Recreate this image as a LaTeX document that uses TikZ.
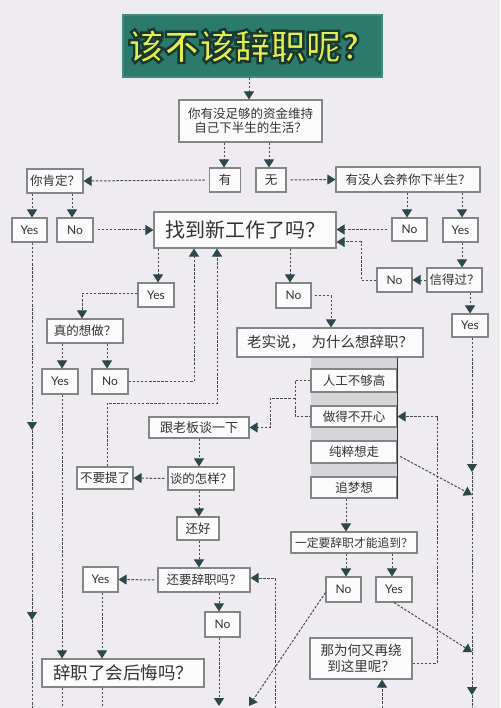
\documentclass[tikz,border=0pt]{standalone}
\usepackage{fontspec}
\setmainfont{Lato}
\newfontfamily\cjk{Noto Sans CJK SC}
\usetikzlibrary{arrows.meta,calc}
\definecolor{bg}{HTML}{EEEBF1}
\definecolor{boxline}{HTML}{858585}
\definecolor{boxfill}{HTML}{FBFBFB}
\definecolor{txt}{HTML}{333333}
\definecolor{conn}{HTML}{4A4A4A}
\definecolor{head}{HTML}{2E4848}
\definecolor{titlefill}{HTML}{2B7A6B}
\definecolor{titleedge}{HTML}{3E8C7E}
\definecolor{titletext}{HTML}{E4EE52}
\definecolor{colgrey}{HTML}{D6D6DA}
\tikzset{
  box/.style={draw=boxline, fill=boxfill, line width=1.1pt, inner sep=0pt, text=txt, align=center},
  cn/.style={box, font=\cjk\fontsize{12.5}{14}\selectfont},
  yn/.style={box, font=\fontsize{12}{14}\selectfont},
  dl/.style={draw=conn, line width=1pt, dash pattern=on 2.5pt off 1.6pt},
  arr/.style={dl, -{Triangle[width=10pt,length=8pt,color=head]}},
  ttl/.style={font=\cjk\bfseries\fontsize{35.5}{38}\selectfont, inner sep=0pt}
}
\begin{document}
\begin{tikzpicture}[x=1pt,y=-1pt]
\useasboundingbox (0,0) rectangle (500,708);
\fill[bg] (0,0) rectangle (500,708);

% title
\node[draw=titleedge, line width=1.2pt, fill=titlefill, minimum width=259pt, minimum height=62pt] (title) at (252.5,46) {};
\node[ttl, text=titletext] (ttext) at (title.center) {\special{pdf:code q 2 Tr 2.4 w 0.1 0.22 0.18 RG}该不该辞职呢？\special{pdf:code 0 Tr Q}};

% grey column of reasons
\fill[colgrey] (311,357) rectangle (397,498);

% nodes
\node[cn, minimum width=143pt, minimum height=42pt] (q1) at (250.5,121) {你有没足够的资金维持\\自己下半生的生活？};
\node[cn, minimum width=31pt, minimum height=24pt] (you) at (225,180) {有};
\node[cn, minimum width=30pt, minimum height=24pt] (wu) at (271,180) {无};
\node[cn, minimum width=56pt, minimum height=24pt] (sure) at (55,181) {你肯定？};
\node[cn, minimum width=144pt, minimum height=25pt] (raise) at (408,179.5) {有没人会养你下半生？};
\node[yn, minimum width=35pt, minimum height=24pt] (yesA) at (29.5,230) {Yes};
\node[yn, minimum width=36pt, minimum height=24pt] (noA) at (75,230) {No};
\node[box, font=\cjk\fontsize{20}{22}\selectfont, minimum width=182pt, minimum height=36pt] (find) at (245,230) {找到新工作了吗？};
\node[yn, minimum width=35pt, minimum height=23pt] (noB) at (409.5,229.5) {No};
\node[yn, minimum width=35pt, minimum height=24pt] (yesB) at (460.5,230) {Yes};
\node[cn, minimum width=55pt, minimum height=24pt] (trust) at (454.5,280) {信得过？};
\node[yn, minimum width=35pt, minimum height=24pt] (noC) at (394.5,280) {No};
\node[yn, minimum width=36pt, minimum height=23pt] (yesC) at (470,325.5) {Yes};
\node[yn, minimum width=36pt, minimum height=24pt] (yesD) at (156,295) {Yes};
\node[yn, minimum width=35pt, minimum height=25pt] (noD) at (293.5,295.5) {No};
\node[box, font=\cjk\fontsize{14.5}{16}\selectfont, minimum width=186pt, minimum height=29pt] (honest) at (330,342.5) {老实说，\ \ 为什么想辞职？};
\node[cn, minimum width=76pt, minimum height=24pt] (real) at (85,331) {真的想做？};
\node[yn, minimum width=36pt, minimum height=25pt] (yesE) at (60,381.5) {Yes};
\node[yn, minimum width=36pt, minimum height=25pt] (noE) at (110,381.5) {No};
\node[cn, minimum width=86pt, minimum height=23pt] (r1) at (354,380.5) {人工不够高};
\node[cn, minimum width=86pt, minimum height=21pt] (r2) at (354,416.5) {做得不开心};
\node[cn, minimum width=86pt, minimum height=22pt] (r3) at (354,452) {纯粹想走};
\node[cn, minimum width=86pt, minimum height=21pt] (r4) at (354,487.5) {追梦想};
\node[cn, font=\cjk\fontsize{13}{15}\selectfont, minimum width=100pt, minimum height=21pt] (boss) at (199,427.5) {跟老板谈一下};
\node[cn, minimum width=66pt, minimum height=23pt] (how) at (201,478.5) {谈的怎样？};
\node[cn, minimum width=56pt, minimum height=22pt] (stop) at (105,478) {不要提了};
\node[cn, minimum width=42pt, minimum height=23pt] (ok) at (198,528.5) {还好};
\node[cn, minimum width=92pt, minimum height=24pt] (still) at (204,580) {还要辞职吗？};
\node[yn, minimum width=35pt, minimum height=25pt] (yesF) at (100.5,579.5) {Yes};
\node[yn, minimum width=35pt, minimum height=25pt] (noF) at (222.5,624.5) {No};
\node[box, font=\cjk\fontsize{17.5}{20}\selectfont, minimum width=162pt, minimum height=28pt] (regret) at (123,673) {辞职了会后悔吗？};
\node[cn, font=\cjk\fontsize{11.8}{14}\selectfont, minimum width=126pt, minimum height=21pt] (must) at (354,542.5) {一定要辞职才能追到？};
\node[yn, minimum width=35pt, minimum height=25pt] (noG) at (343.5,589.5) {No};
\node[yn, minimum width=36pt, minimum height=25pt] (yesG) at (394,589.5) {Yes};
\node[cn, font=\cjk\fontsize{13.5}{16}\selectfont, minimum width=102pt, minimum height=41pt] (why) at (361,658.5) {那为何又再绕\\到这里呢？};

% solid line at right of reason column
\draw[color=txt, line width=1.6pt] (honest.south -| r1.east) -- (r4.south east);

% helper coordinates
\coordinate (x249) at (249,0);
\coordinate (x224) at (224,0);
\coordinate (x269) at (269,0);
\coordinate (x32) at (32,0);
\coordinate (x72) at (72,0);
\coordinate (x407) at (407,0);
\coordinate (x462) at (462,0);
\coordinate (k1) at (361,242);
\coordinate (x470) at (470,0);
\coordinate (x472) at (472,0);
\coordinate (m1) at (472,472);
\coordinate (m2) at (472,695);
\coordinate (m3) at (472,708);
\coordinate (d1) at (472,495);
\coordinate (d2) at (472,652);
\coordinate (k437) at (437,416.5);
\coordinate (x158) at (158,0);
\coordinate (x290) at (290,0);
\coordinate (x331) at (331,0);
\coordinate (x82) at (82,0);
\coordinate (x62) at (62,0);
\coordinate (x107) at (107,0);
\coordinate (x194) at (194,0);
\coordinate (k2) at (217,403);
\coordinate (a1) at (32,430);
\coordinate (a2) at (32,620);
\coordinate (a3) at (32,708);
\coordinate (x295) at (295,0);
\coordinate (k3) at (295,398);
\coordinate (x270) at (270,0);
\coordinate (x199) at (199,0);
\coordinate (x102) at (102,0);
\coordinate (x219) at (219,0);
\coordinate (b219) at (219,706);
\coordinate (b275) at (275,708);
\coordinate (b62) at (62,708);
\coordinate (b102) at (102,708);
\coordinate (x346) at (346,0);
\coordinate (x392) at (392,0);
\coordinate (b249) at (249,706);
\coordinate (b382) at (382,708);

% connectors
\draw[arr] (title.south -| x249) -- (q1.north -| x249);
\draw[arr] (q1.south -| x224) -- (you.north -| x224);
\draw[arr] (q1.south -| x269) -- (wu.north -| x269);
\draw[arr, shorten <=4pt] (you.west) -- (sure.east);
\draw[arr, shorten <=4pt] (wu.east) -- (raise.west);
\draw[arr] (sure.south -| x32) -- (yesA.north -| x32);
\draw[arr] (sure.south -| x72) -- (noA.north -| x72);
\draw[arr, shorten <=4pt] (noA.east) -- (find.west);
\draw[arr] (raise.south -| x407) -- (noB.north -| x407);
\draw[arr] (raise.south -| x462) -- (yesB.north -| x462);
\draw[arr, shorten <=4pt] (noB.west) -- (find.east |- noB.west);
\draw[arr] (yesB.south -| x462) -- (trust.north -| x462);
\draw[arr] (trust.west) -- (noC.east);
\draw[arr] (noC.west) -| (k1) -- (find.east |- k1);
\draw[arr] (trust.south -| x470) -- (yesC.north -| x470);
\draw[arr] (yesC.south -| x472) -- (m1);
\draw[arr] (m1) -- (m2);
\draw[dl] (m2) -- (m3);
\draw[arr, shorten <=3pt] ([yshift=-3pt]r3.east) -- (d1);
\draw[arr] (yesG.south) -- (d2);
\draw[arr] ([yshift=-4.5pt]why.east) -| (k437) -- (r2.east);
\draw[arr] (find.south -| x158) -- (yesD.north -| x158);
\draw[arr] (find.south -| x290) -- (noD.north -| x290);
\draw[arr, shorten <=3pt] (noD.east) -| (x331 |- honest.north);
\draw[arr] ([yshift=2pt]yesD.west) -| (x82 |- real.north);
\draw[arr] (real.south -| x62) -- (yesE.north -| x62);
\draw[arr] (real.south -| x107) -- (noE.north -| x107);
\draw[arr] (noE.east) -| (x194 |- find.south);
\draw[arr] (stop.north -| x107) |- (k2) -- (find.south -| k2);
\draw[arr] (yesE.south -| x62) -- (regret.north -| x62);
\draw[arr] (yesA.south -| x32) -- (a1);
\draw[arr] (a1) -- (a2);
\draw[dl] (a2) -- (a3);
\draw[dl] (r1.west) -| (x295 |- r2.west) -- (r2.west);
\draw[arr] (k3) -| (x270 |- boss.east) -- (boss.east);
\draw[arr] (boss.south -| x199) -- (how.north -| x199);
\draw[arr, shorten <=3pt] (how.west) -- (stop.east);
\draw[arr] (how.south -| x199) -- (ok.north -| x199);
\draw[arr] (ok.south -| x199) -- (still.north -| x199);
\draw[arr, shorten <=3pt] (still.west) -- (yesF.east);
\draw[arr] (yesF.south -| x102) -- (regret.north -| x102);
\draw[arr] (still.south -| x219) -- (noF.north -| x219);
\draw[arr] (noF.south -| x219) -- (b219);
\draw[arr] (b275) |- ([yshift=2pt]still.east);
\draw[dl] (regret.south -| x62) -- (b62);
\draw[dl] (regret.south -| x102) -- (b102);
\draw[arr] (r4.south -| x346) -- (must.north -| x346);
\draw[arr] (must.south -| x346) -- (noG.north -| x346);
\draw[arr] (must.south -| x392) -- (yesG.north -| x392);
\draw[arr] ([yshift=-3pt]noG.west) -- (b249);
\draw[arr] (b382) -- (why.south -| b382);
\end{tikzpicture}
\end{document}
